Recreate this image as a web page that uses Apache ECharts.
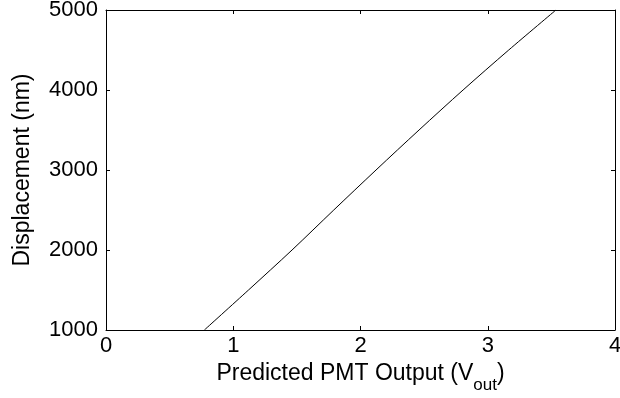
<!DOCTYPE html>
<html>
<head>
<meta charset="utf-8">
<script src="https://cdn.jsdelivr.net/npm/echarts@6/dist/echarts.min.js"></script>
<style>
  html, body { margin: 0; padding: 0; background: #fff; }
  #chart { width: 620px; height: 398px; }
</style>
</head>
<body>
<div id="chart"></div>
<script>
// Predicted PMT output voltage versus displacement
const displacementNm = [1000, 1500, 2000, 2500, 3000, 3500, 4000, 4500, 5000];
const pmtOutputV = [0.773, 1.12, 1.462, 1.79, 2.122, 2.46, 2.806, 3.165, 3.536];

const xTicks = [0, 1, 2, 3, 4];
const yTicks = [1000, 2000, 3000, 4000, 5000];

const FONT = '"Liberation Sans", Arial, Helvetica, sans-serif';
const points = pmtOutputV.map((v, i) => [v, displacementNm[i]]);

const chart = echarts.init(document.getElementById('chart'), null, { renderer: 'canvas' });

const boxAxis = {
  axisLine: { show: true, onZero: false, lineStyle: { color: '#000', width: 1 } },
  axisTick: { show: true, inside: true, length: 4, lineStyle: { color: '#000', width: 1 } },
  splitLine: { show: false }
};

chart.setOption({
  animation: false,
  backgroundColor: '#fff',
  grid: { left: 106, right: 5, top: 10, bottom: 68, containLabel: false, outerBoundsMode: 'none' },
  xAxis: [
    Object.assign({
      type: 'value', position: 'bottom',
      min: xTicks[0], max: xTicks[xTicks.length - 1], interval: 1,
      axisLabel: { color: '#000', fontSize: 22, fontFamily: FONT, margin: 5, formatter: v => String(v) },
      name: '{t|Predicted PMT Output (V}{s|out}{t|)}',
      nameLocation: 'middle', nameGap: 27,
      nameTextStyle: {
        rich: {
          t: { fontSize: 23, fontFamily: FONT, color: '#000', lineHeight: 32, verticalAlign: 'top' },
          s: { fontSize: 17, fontFamily: FONT, color: '#000', lineHeight: 32, verticalAlign: 'bottom' }
        }
      }
    }, boxAxis),
    Object.assign({
      type: 'value', position: 'top',
      min: xTicks[0], max: xTicks[xTicks.length - 1], interval: 1,
      axisLabel: { show: false }
    }, boxAxis)
  ],
  yAxis: [
    Object.assign({
      type: 'value', position: 'left',
      min: yTicks[0], max: yTicks[yTicks.length - 1], interval: 1000,
      axisLabel: { color: '#000', fontSize: 22, fontFamily: FONT, margin: 8, formatter: v => String(v) },
      name: 'Displacement (nm)', nameLocation: 'middle', nameGap: 72,
      nameTextStyle: { color: '#000', fontSize: 23, fontFamily: FONT }
    }, boxAxis),
    Object.assign({
      type: 'value', position: 'right',
      min: yTicks[0], max: yTicks[yTicks.length - 1], interval: 1000,
      axisLabel: { show: false }
    }, boxAxis)
  ],
  series: [{
    type: 'line',
    data: points,
    smooth: 0.3,
    showSymbol: false,
    lineStyle: { color: '#000', width: 1 },
    clip: true
  }]
});
</script>
</body>
</html>
